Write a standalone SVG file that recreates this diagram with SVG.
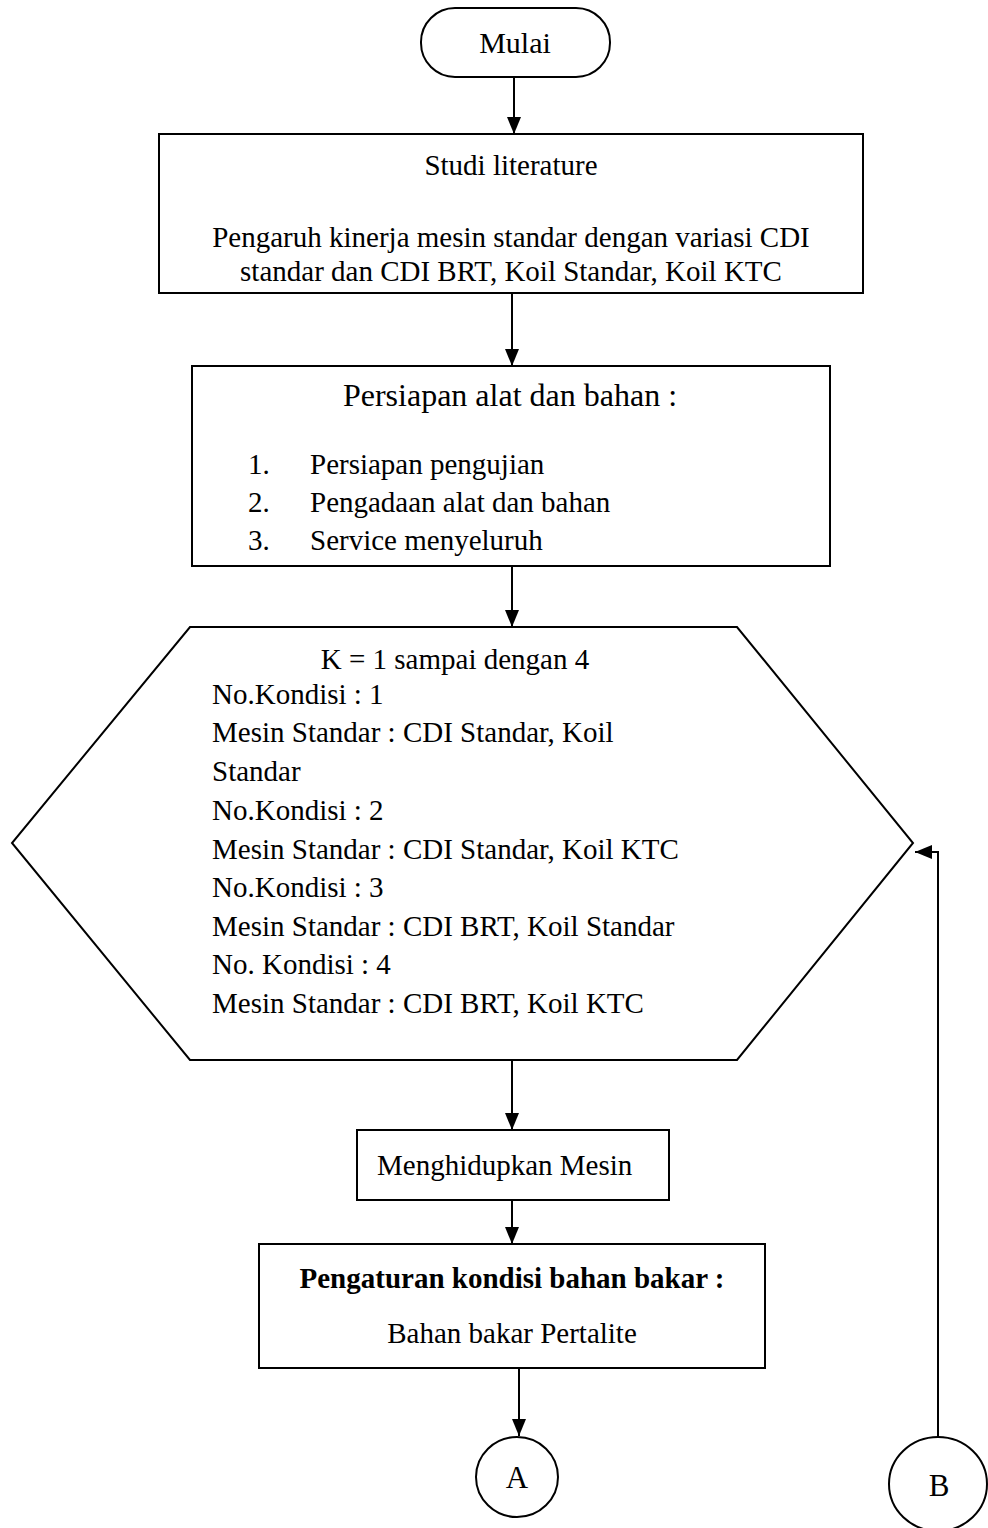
<svg xmlns="http://www.w3.org/2000/svg" width="988" height="1528" viewBox="0 0 988 1528">
<style>
.s{fill:#fff;stroke:#000;stroke-width:2}
.t{font-family:"Liberation Serif","Times New Roman",serif;font-size:29px;fill:#000}
.c{text-anchor:middle}
.b{font-weight:bold}
.l{fill:none;stroke:#000;stroke-width:2}
</style>
<defs>
<marker id="ah" markerUnits="userSpaceOnUse" markerWidth="18" markerHeight="14" refX="17" refY="7" orient="auto">
<path d="M0,0 L17,7 L0,14 Z" fill="#000"/>
</marker>
</defs>
<rect width="988" height="1528" fill="#fff"/>
<g id="connectors">
<line class="l" x1="514" y1="77" x2="514" y2="134" marker-end="url(#ah)"/>
<line class="l" x1="512" y1="293" x2="512" y2="366" marker-end="url(#ah)"/>
<line class="l" x1="512" y1="566" x2="512" y2="627" marker-end="url(#ah)"/>
<line class="l" x1="512" y1="1060" x2="512" y2="1130" marker-end="url(#ah)"/>
<line class="l" x1="512" y1="1200" x2="512" y2="1244" marker-end="url(#ah)"/>
<line class="l" x1="519" y1="1368" x2="519" y2="1436" marker-end="url(#ah)"/>
<polyline class="l" points="938,1437 938,852 915,852" marker-end="url(#ah)"/>
</g>
<g id="mulai">
<rect class="s" x="421" y="8" width="189" height="69" rx="34" ry="34"/>
<text class="t c" x="515" y="53" style="font-size:30px">Mulai</text>
</g>
<g id="studi">
<rect class="s" x="159" y="134" width="704" height="159"/>
<text class="t c" x="511" y="175">Studi literature</text>
<text class="t c" x="511" y="247">Pengaruh kinerja mesin standar dengan variasi CDI</text>
<text class="t c" x="511" y="281">standar dan CDI BRT, Koil Standar, Koil KTC</text>
</g>
<g id="persiapan">
<rect class="s" x="192" y="366" width="638" height="200"/>
<text class="t c" x="510" y="406" style="font-size:32px">Persiapan alat dan bahan :</text>
<text class="t" x="248" y="474">1.</text>
<text class="t" x="310" y="474">Persiapan pengujian</text>
<text class="t" x="248" y="512">2.</text>
<text class="t" x="310" y="512">Pengadaan alat dan bahan</text>
<text class="t" x="248" y="550">3.</text>
<text class="t" x="310" y="550">Service menyeluruh</text>
</g>
<g id="kondisi">
<polygon class="s" points="190,627 737,627 913,843 737,1060 190,1060 12,843"/>
<text class="t c" x="455" y="669">K = 1 sampai dengan 4</text>
<text class="t" x="212" y="704">No.Kondisi : 1</text>
<text class="t" x="212" y="742">Mesin Standar : CDI Standar, Koil</text>
<text class="t" x="212" y="781">Standar</text>
<text class="t" x="212" y="820">No.Kondisi : 2</text>
<text class="t" x="212" y="859">Mesin Standar : CDI Standar, Koil KTC</text>
<text class="t" x="212" y="897">No.Kondisi : 3</text>
<text class="t" x="212" y="936">Mesin Standar : CDI BRT, Koil Standar</text>
<text class="t" x="212" y="974">No. Kondisi : 4</text>
<text class="t" x="212" y="1013">Mesin Standar : CDI BRT, Koil KTC</text>
</g>
<g id="menghidupkan">
<rect class="s" x="357" y="1130" width="312" height="70"/>
<text class="t" x="377" y="1175">Menghidupkan Mesin</text>
</g>
<g id="pengaturan">
<rect class="s" x="259" y="1244" width="506" height="124"/>
<text class="t c b" x="512" y="1288">Pengaturan kondisi bahan bakar :</text>
<text class="t c" x="512" y="1343">Bahan bakar Pertalite</text>
</g>
<g id="a">
<ellipse class="s" cx="517" cy="1477" rx="41" ry="40"/>
<text class="t c" x="517" y="1488" style="font-size:31px">A</text>
</g>
<g id="b">
<ellipse class="s" cx="938" cy="1484" rx="49" ry="47"/>
<text class="t c" x="939" y="1496" style="font-size:31px">B</text>
</g>
</svg>
